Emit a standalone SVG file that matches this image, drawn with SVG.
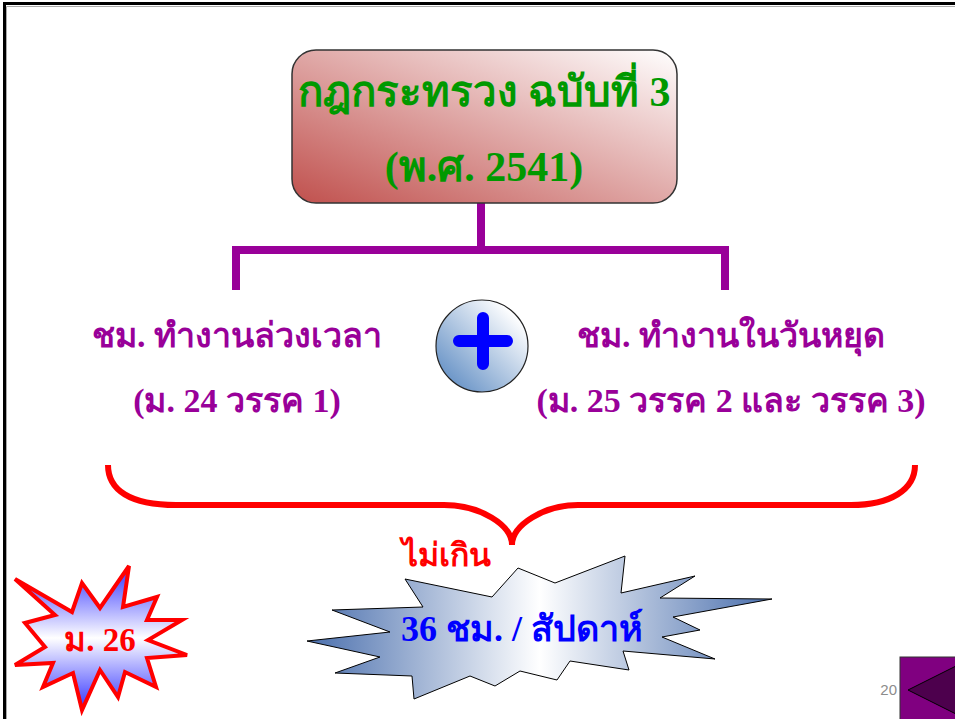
<svg xmlns="http://www.w3.org/2000/svg" width="955" height="719" viewBox="0 0 955 719">
<style>
.th{font-family:"Liberation Serif","DejaVu Serif",serif;font-weight:bold;text-anchor:middle}
.green{fill:#009900;font-size:42px}
.purple{fill:#990099;font-size:34px}
.conn{fill:none;stroke:#990099;stroke-width:8}
</style>
<defs>
<linearGradient id="gTitle" x1="0" y1="1" x2="1" y2="0">
<stop offset="0" stop-color="#c0504d"/><stop offset="1" stop-color="#ffffff"/>
</linearGradient>
<linearGradient id="gCircle" x1="0" y1="1" x2="1" y2="0">
<stop offset="0" stop-color="#4f81bd"/><stop offset="0.85" stop-color="#ffffff"/>
</linearGradient>
<linearGradient id="gBurst" x1="0" y1="0" x2="1" y2="0">
<stop offset="0" stop-color="#4a6fad"/><stop offset="0.5" stop-color="#ffffff"/><stop offset="1" stop-color="#4a6fad"/>
</linearGradient>
<linearGradient id="gStar" x1="0" y1="0" x2="0" y2="1">
<stop offset="0" stop-color="#3333ff"/><stop offset="0.5" stop-color="#ffffff"/><stop offset="1" stop-color="#3333ff"/>
</linearGradient>
</defs>
<rect width="955" height="719" fill="#ffffff"/>
<path d="M4.5,719 V3.5 H955" fill="none" stroke="#000" stroke-width="3"/>
<path d="M6.5,719 V6.5 H955" fill="none" stroke="#aaa" stroke-width="1"/>

<g id="connectors">
<path class="conn" d="M481,203 V250"/>
<path class="conn" d="M236,290 V250 H725 V290"/>
<path d="M108,465 C108,490 130,505 176,505 L444,505 C480,505 512,525 512,545 C512,525 544,505 578,505 L851,505 C890,505 915,490 915,465" fill="none" stroke="#ff0000" stroke-width="6"/>
</g>

<g id="title">
<rect x="292" y="50" width="385" height="153" rx="24" fill="url(#gTitle)" stroke="#333" stroke-width="1.5"/>
<text class="th green" x="484" y="106">กฎกระทรวง ฉบับที่ 3</text>
<text class="th green" x="484" y="181">(พ.ศ. 2541)</text>
</g>

<g id="overtime">
<text class="th purple" x="237" y="347">ชม. ทำงานล่วงเวลา</text>
<text class="th purple" x="237" y="412">(ม. 24 วรรค 1)</text>
</g>

<g id="plus">
<circle cx="482" cy="346" r="46" fill="url(#gCircle)" stroke="#222" stroke-width="1.2"/>
<path d="M459,341 H507 M483,318 V364" stroke="#0000ff" stroke-width="12" stroke-linecap="round"/>
</g>

<g id="holiday">
<text class="th purple" x="731" y="347">ชม. ทำงานในวันหยุด</text>
<text class="th purple" x="731" y="412">(ม. 25 วรรค 2 และ วรรค 3)</text>
</g>

<g id="notexceed">
<text class="th" x="446" y="566" style="fill:#ff0000;font-size:32px">ไม่เกิน</text>
</g>

<g id="limit">
<polygon points="405,579 492,597 518,568 555,583 625,556 621,593 695,576 660,598 772,599 673,617 700,630 662,637 715,659 623,651 629,670 570,661 557,680 520,671 495,686 470,676 414,699 412,676 335,673 380,657 307,641 390,632 332,610 423,607" fill="url(#gBurst)" stroke="#000" stroke-width="1"/>
<text class="th" x="522" y="641" style="fill:#0000ff;font-size:36px">36 ชม. / สัปดาห์</text>
</g>

<g id="section26">
<polygon points="15,579 72,612 82,583 100,608 129,566 123,607 157,597 147,620 182,620 148,640 187,655 147,658 156,687 125,672 118,697 100,670 82,710 73,673 43,687 53,663 15,665 45,647 25,623 55,615" fill="url(#gStar)" stroke="#ff0000" stroke-width="4" stroke-linejoin="miter"/>
<text class="th" x="100" y="651" style="fill:#ff0000;font-size:33px">ม. 26</text>
</g>

<g id="pagenum">
<text x="897" y="695" style="font-family:'Liberation Sans',Arial,sans-serif;font-size:15px;fill:#8c8c8c;text-anchor:end">20</text>
</g>

<g id="navbutton">
<rect x="900" y="657" width="60" height="70" fill="#800080" stroke="#333" stroke-width="1"/>
<polygon points="908,690 960,664 960,716" fill="#4d004d" stroke="#000" stroke-width="1"/>
</g>
</svg>
